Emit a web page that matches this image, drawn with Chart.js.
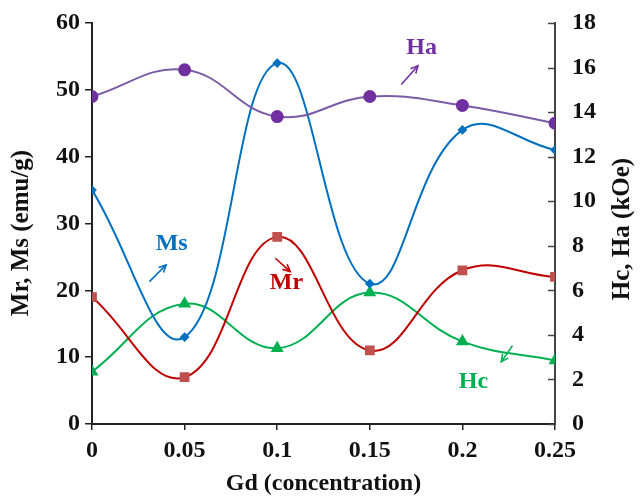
<!DOCTYPE html>
<html lang="en">
<head>
    <meta charset="UTF-8">
    <title>Gd concentration - magnetic properties</title>
    <script src="https://cdn.jsdelivr.net/npm/chart.js"></script>
    <style>
        html, body { margin: 0; padding: 0; background: #fff; }
        #wrap { width: 643px; height: 498px; }
    </style>
</head>
<body>
    <div id="wrap"><canvas id="magChart" width="643" height="498"></canvas></div>

    <script>
        // --- Data ---
        const gd = [0, 0.05, 0.1, 0.15, 0.2, 0.25];
        const ms = [35, 13, 54, 21, 44, 41];          // emu/g, left axis
        const mr = [19, 7, 28, 11, 23, 22];           // emu/g, left axis
        const hc = [2.35, 5.4, 3.4, 5.9, 3.7, 2.85];  // kOe, right axis
        const ha = [14.7, 15.9, 13.8, 14.7, 14.3, 13.5]; // kOe, right axis
        const leftTicks = [0, 10, 20, 30, 40, 50, 60];
        const rightTicks = [0, 2, 4, 6, 8, 10, 12, 14, 16, 18];
        const xTicks = [0, 0.05, 0.1, 0.15, 0.2, 0.25];

        // labels with arrows, in data units of left axis (x, y) ; arrow from -> to
        const notes = [
            { text: 'Ha', color: '#7030A0', x: 0.178, y: 56.3, ax1: 0.167, ay1: 50.8, ax2: 0.176, ay2: 53.6 },
            { text: 'Ms', color: '#0070C0', x: 0.043, y: 26.9, ax1: 0.031, ay1: 21.3, ax2: 0.040, ay2: 23.8 },
            { text: 'Mr', color: '#C00000', x: 0.105, y: 21.1, ax1: 0.099, ay1: 24.8, ax2: 0.107, ay2: 22.8 },
            { text: 'Hc', color: '#00B050', x: 0.206, y: 6.3,  ax1: 0.227, ay1: 11.7, ax2: 0.221, ay2: 9.3 }
        ];

        const serif = "'Liberation Serif', 'Times New Roman', serif";

        const notesPlugin = {
            id: 'notes',
            afterDatasetsDraw(chart) {
                const { ctx, scales, chartArea } = chart;
                const xs = scales.x, ys = scales.y, y2 = scales.y2;
                ctx.save();

                // inward tick marks on the right axis
                ctx.strokeStyle = '#444';
                ctx.lineWidth = 1.5;
                rightTicks.forEach(v => {
                    const py = Math.round(y2.getPixelForValue(v)) + 0.5;
                    ctx.beginPath();
                    ctx.moveTo(chartArea.right - 7, py);
                    ctx.lineTo(chartArea.right, py);
                    ctx.stroke();
                });

                // rotated axis titles (both read bottom to top)
                ctx.fillStyle = '#111';
                ctx.font = 'bold 25px ' + serif;
                ctx.textAlign = 'center';
                ctx.textBaseline = 'middle';
                [['Mr, Ms (emu/g)', 22, 233], ['Hc, Ha (kOe)', 623, 229]].forEach(t => {
                    ctx.save();
                    ctx.translate(t[1], t[2]);
                    ctx.rotate(-Math.PI / 2);
                    ctx.fillText(t[0], 0, 0);
                    ctx.restore();
                });

                notes.forEach(n => {
                    ctx.fillStyle = n.color;
                    ctx.strokeStyle = n.color;
                    ctx.font = 'bold 24px ' + serif;
                    ctx.fillText(n.text, xs.getPixelForValue(n.x), ys.getPixelForValue(n.y));

                    const x1 = xs.getPixelForValue(n.ax1), y1 = ys.getPixelForValue(n.ay1);
                    const x2 = xs.getPixelForValue(n.ax2), yy2 = ys.getPixelForValue(n.ay2);
                    const ang = Math.atan2(yy2 - y1, x2 - x1);
                    ctx.lineWidth = 1.6;
                    ctx.beginPath();
                    ctx.moveTo(x1, y1);
                    ctx.lineTo(x2, yy2);
                    ctx.stroke();
                    ctx.beginPath();
                    ctx.moveTo(x2 - 8 * Math.cos(ang - 0.45), yy2 - 8 * Math.sin(ang - 0.45));
                    ctx.lineTo(x2, yy2);
                    ctx.lineTo(x2 - 8 * Math.cos(ang + 0.45), yy2 - 8 * Math.sin(ang + 0.45));
                    ctx.stroke();
                });
                ctx.restore();
            }
        };

        function series(label, vals, color, pointColor, style, radius, axis) {
            return {
                label: label,
                data: gd.map((g, i) => ({ x: g, y: vals[i] })),
                borderColor: color,
                backgroundColor: pointColor,
                pointBorderColor: pointColor,
                pointBackgroundColor: pointColor,
                pointStyle: style,
                pointRadius: radius,
                borderWidth: 2,
                tension: 0.42,
                yAxisID: axis
            };
        }

        const axisTickFont = { family: serif, size: 24, weight: 'bold' };

        new Chart(document.getElementById('magChart'), {
            type: 'line',
            data: {
                datasets: [
                    series('Ha', ha, '#7C5BA6', '#7030A0', 'circle', 5.5, 'y2'),
                    series('Ms', ms, '#0070C0', '#0070C0', 'rectRot', 3.5, 'y'),
                    series('Mr', mr, '#C00000', '#C0504D', 'rect', 5.5, 'y'),
                    series('Hc', hc, '#00B050', '#00B050', 'triangle', 5.5, 'y2')
                ]
            },
            options: {
                responsive: false,
                animation: false,
                layout: { padding: { top: 23, left: 0, right: 0, bottom: 0 } },
                plugins: { legend: { display: false }, tooltip: { enabled: false } },
                scales: {
                    x: {
                        type: 'linear',
                        min: 0, max: 0.25,
                        afterBuildTicks: s => { s.ticks = xTicks.map(v => ({ value: v })); },
                        afterFit: s => { s.height = 74; },
                        ticks: { color: '#111', font: axisTickFont, padding: 6, callback: v => String(v) },
                        grid: { drawOnChartArea: false, drawTicks: true, tickLength: 6, color: '#222', lineWidth: 1.5 },
                        border: { display: true, color: '#222', width: 2 },
                        title: { display: true, text: 'Gd (concentration)', color: '#111',
                                 font: { family: serif, size: 24, weight: 'bold' }, padding: { top: 4, bottom: 0 } }
                    },
                    y: {
                        position: 'left',
                        min: 0, max: 60,
                        afterBuildTicks: s => { s.ticks = leftTicks.map(v => ({ value: v })); },
                        afterFit: s => { s.width = 92; },
                        ticks: { color: '#111', font: axisTickFont, padding: 5 },
                        grid: { drawOnChartArea: false, drawTicks: true, tickLength: 7, color: '#222', lineWidth: 1.5 },
                        border: { display: true, color: '#222', width: 2 }
                    },
                    y2: {
                        position: 'right',
                        min: 0, max: 18,
                        afterBuildTicks: s => { s.ticks = rightTicks.map(v => ({ value: v })); },
                        afterFit: s => { s.width = 88; },
                        ticks: { color: '#111', font: axisTickFont, padding: 5 },
                        grid: { drawOnChartArea: false, drawTicks: true, tickLength: 12, tickColor: 'rgba(0,0,0,0)' },
                        border: { display: true, color: '#444', width: 2 }
                    }
                }
            },
            plugins: [notesPlugin]
        });
    </script>
</body>
</html>
